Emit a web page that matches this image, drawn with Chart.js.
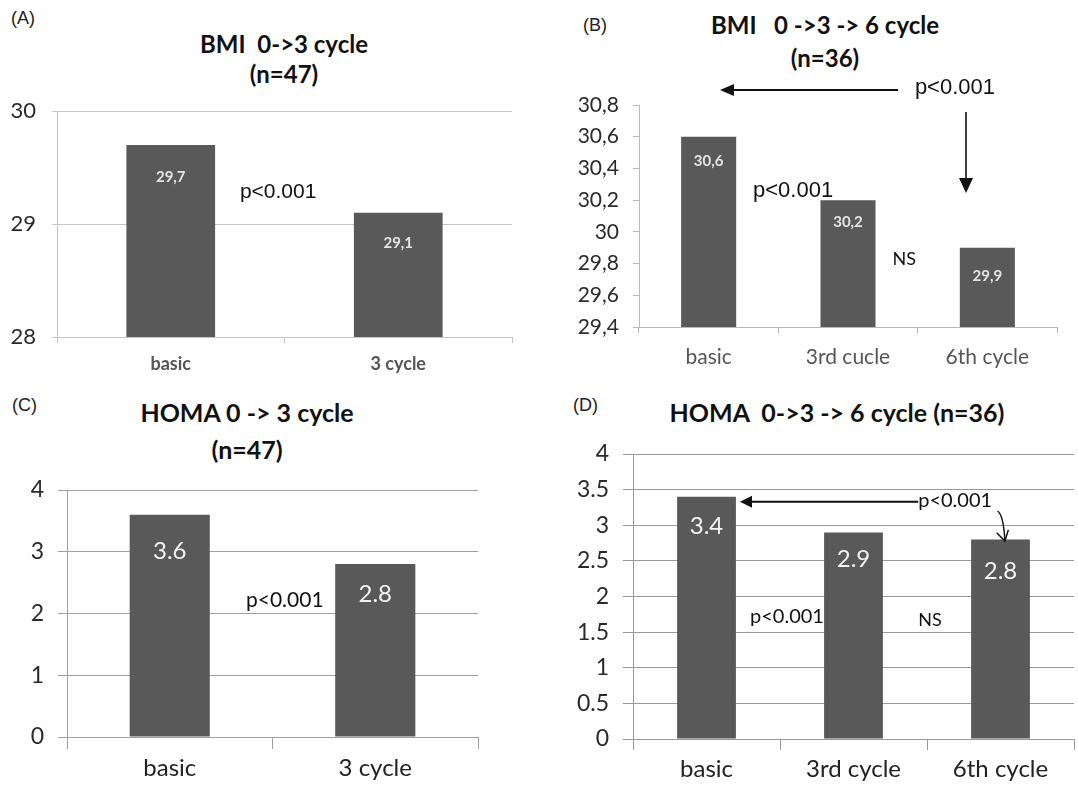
<!DOCTYPE html>
<html><head><meta charset="utf-8">
<script src="https://cdn.jsdelivr.net/npm/chart.js@4"></script>
<style>
body{margin:0;background:#fff;width:1078px;height:790px;position:relative;overflow:hidden;font-family:Lato,sans-serif}
canvas{position:absolute}
.t{position:absolute;white-space:pre;transform:translateX(-50%);font-weight:bold;color:#111;line-height:1}
.l{position:absolute;font-family:"Liberation Sans",Arial,sans-serif;font-size:18px;color:#222;line-height:1}
</style></head><body>
<div class="l" style="left:11px;top:9px">(A)</div>
<div class="l" style="left:583px;top:16px">(B)</div>
<div class="l" style="left:12px;top:396px">(C)</div>
<div class="l" style="left:573px;top:396px">(D)</div>
<div class="t" style="left:284px;top:32px;font-size:24px">BMI  0-&gt;3 cycle</div>
<div class="t" style="left:284px;top:62px;font-size:24px">(n=47)</div>
<div class="t" style="left:825px;top:13px;font-size:24px">BMI   0 -&gt;3 -&gt; 6 cycle</div>
<div class="t" style="left:825px;top:46px;font-size:24px">(n=36)</div>
<div class="t" style="left:247px;top:400px;font-size:25px">HOMA 0 -&gt; 3 cycle</div>
<div class="t" style="left:247px;top:437px;font-size:25px">(n=47)</div>
<div class="t" style="left:837px;top:400px;font-size:25px">HOMA  0-&gt;3 -&gt; 6 cycle (n=36)</div>
<canvas id="cA" width="540" height="390" style="left:0;top:0"></canvas>
<canvas id="cB" width="538" height="390" style="left:540px;top:0"></canvas>
<canvas id="cC" width="540" height="400" style="left:0;top:390px"></canvas>
<canvas id="cD" width="538" height="400" style="left:540px;top:390px"></canvas>
<script>
// ---- data ----
const catsA = ['basic', '3 cycle'];
const bmiA = [29.7, 29.1];
const yTicksA = [28, 29, 30];

const catsB = ['basic', '3rd cucle', '6th cycle'];
const bmiB = [30.6, 30.2, 29.9];
const yTicksB = [29.4, 29.6, 29.8, 30, 30.2, 30.4, 30.6, 30.8];

const catsC = ['basic', '3 cycle'];
const homaC = [3.6, 2.8];
const yTicksC = [0, 1, 2, 3, 4];

const catsD = ['basic', '3rd cycle', '6th cycle'];
const homaD = [3.4, 2.9, 2.8];
const yTicksD = [0, 0.5, 1, 1.5, 2, 2.5, 3, 3.5, 4];

const comma = v => String(Math.round(v * 10) / 10).replace('.', ',');
const dot = v => String(Math.round(v * 10) / 10);

const annot = {
  id: 'annot',
  afterDatasetsDraw(chart, args, opts) {
    const P = opts.panel, ctx = chart.ctx, xs = chart.scales.x, ys = chart.scales.y;
    const X = i => xs.getPixelForValue(i), Y = v => ys.getPixelForValue(v);
    ctx.save();
    ctx.font = P.barFont; ctx.fillStyle = P.barLabelColor;
    ctx.textAlign = 'center'; ctx.textBaseline = 'middle';
    chart.getDatasetMeta(0).data.forEach((bar, k) => {
      ctx.fillText(P.fmt(P.values[k]), bar.x, bar.y + P.labelOffset[k]);
    });
    ctx.textAlign = 'left';
    P.notes.forEach(n => {
      ctx.font = n.font; ctx.fillStyle = '#111';
      ctx.fillText(n.text, X(n.i), Y(n.v));
    });
    P.arrows.forEach(a => {
      const x1 = X(a.i1), y1 = Y(a.v1), x2 = X(a.i2), y2 = Y(a.v2);
      const ang = Math.atan2(y2 - y1, x2 - x1);
      ctx.strokeStyle = '#111'; ctx.fillStyle = '#111'; ctx.lineWidth = a.lw;
      const hx = x2 - a.hl * Math.cos(ang), hy = y2 - a.hl * Math.sin(ang);
      ctx.beginPath();
      ctx.moveTo(x1, y1);
      if (a.curve) ctx.quadraticCurveTo(x1 + 6, y1 + 4, a.open ? x2 : hx, a.open ? y2 : hy);
      else ctx.lineTo(a.open ? x2 : hx, a.open ? y2 : hy);
      ctx.stroke();
      const px = -Math.sin(ang) * a.hw, py = Math.cos(ang) * a.hw;
      ctx.beginPath();
      if (a.open) {
        ctx.moveTo(hx + px, hy + py); ctx.lineTo(x2, y2); ctx.lineTo(hx - px, hy - py); ctx.stroke();
      } else {
        ctx.moveTo(x2, y2); ctx.lineTo(hx + px, hy + py); ctx.lineTo(hx - px, hy - py); ctx.closePath(); ctx.fill();
      }
    });
    ctx.restore();
  }
};

function makePanel(id, P) {
  new Chart(document.getElementById(id), {
    type: 'bar',
    data: { labels: P.cats, datasets: [{ data: P.values, backgroundColor: '#595959', barPercentage: P.barPct, categoryPercentage: 1 }] },
    options: {
      responsive: false, animation: false, devicePixelRatio: 1,
      layout: { padding: { top: P.area.top, right: P.w - P.area.right, left: 0, bottom: 0 } },
      plugins: { legend: { display: false }, tooltip: { enabled: false }, annot: { panel: P } },
      scales: {
        x: {
          grid: { drawOnChartArea: false, tickLength: P.xTick, color: P.axisColor },
          border: { color: P.axisColor },
          ticks: { font: P.xFont, color: P.xColor, padding: P.xPad, maxRotation: 0, autoSkip: false },
          afterFit(s) { s.height = P.h - P.area.bottom; }
        },
        y: {
          min: P.yTicks[0], max: P.yTicks[P.yTicks.length - 1],
          afterBuildTicks(s) { s.ticks = P.yTicks.map(v => ({ value: v })); },
          grid: { drawOnChartArea: P.grid, tickLength: P.yTick, color: P.gridColor },
          border: { color: P.axisColor },
          ticks: { font: P.yFont, color: '#2a2a2a', padding: P.yPad, callback: v => P.fmt(v) },
          afterFit(s) { s.width = P.area.left; }
        }
      }
    },
    plugins: [annot]
  });
}

makePanel('cA', {
  cats: catsA, values: bmiA, yTicks: yTicksA, fmt: comma, w: 540, h: 390,
  area: { left: 57, right: 512, top: 111, bottom: 337 }, barPct: 0.39,
  grid: true, gridColor: '#c4c4c4', axisColor: '#c4c4c4', xTick: 6, yTick: 5,
  xFont: { family: 'Lato', size: 18, weight: 'bold' }, xColor: '#555', xPad: 10,
  yFont: { family: 'Lato', size: 22 }, yPad: 16,
  barFont: 'bold 15px Lato', barLabelColor: '#e4e4e4', labelOffset: [32, 30],
  notes: [{ text: 'p<0.001', i: 0.304, v: 29.283, font: '21px "Liberation Sans"' }],
  arrows: []
});

makePanel('cB', {
  cats: catsB, values: bmiB, yTicks: yTicksB, fmt: comma, w: 538, h: 390,
  area: { left: 99, right: 517, top: 105, bottom: 327 }, barPct: 0.395,
  grid: false, gridColor: '#b8b8b8', axisColor: '#b8b8b8', xTick: 6, yTick: 6,
  xFont: { family: 'Lato', size: 21 }, xColor: '#555', xPad: 12,
  yFont: { family: 'Lato', size: 21 }, yPad: 14,
  barFont: 'bold 15px Lato', barLabelColor: '#e4e4e4', labelOffset: [24, 22, 28],
  notes: [
    { text: 'p<0.001', i: 1.48, v: 30.907, font: '22px "Liberation Sans"' },
    { text: 'p<0.001', i: 0.318, v: 30.258, font: '22px "Liberation Sans"' },
    { text: 'NS', i: 1.32, v: 29.829, font: '18px Lato' }
  ],
  arrows: [
    { i1: 1.36, v1: 30.895, i2: 0.081, v2: 30.895, lw: 2, hl: 14, hw: 6 },
    { i1: 1.847, v1: 30.756, i2: 1.847, v2: 30.245, lw: 1.6, hl: 15, hw: 7 }
  ]
});

makePanel('cC', {
  cats: catsC, values: homaC, yTicks: yTicksC, fmt: dot, w: 540, h: 400,
  area: { left: 67, right: 478, top: 100, bottom: 347 }, barPct: 0.39,
  grid: true, gridColor: '#a0a0a0', axisColor: '#a0a0a0', xTick: 12, yTick: 9,
  xFont: { family: 'Lato', size: 24 }, xColor: '#222', xPad: 5,
  yFont: { family: 'Lato', size: 23 }, yPad: 14,
  barFont: '24px Lato', barLabelColor: '#f2f2f2', labelOffset: [37, 30],
  notes: [{ text: 'p<0.001', i: 0.371, v: 2.22, font: '21px Lato' }],
  arrows: []
});

makePanel('cD', {
  cats: catsD, values: homaD, yTicks: yTicksD, fmt: dot, w: 538, h: 400,
  area: { left: 93, right: 534, top: 64, bottom: 349 }, barPct: 0.40,
  grid: true, gridColor: '#999', axisColor: '#999', xTick: 11, yTick: 10,
  xFont: { family: 'Lato', size: 24 }, xColor: '#222', xPad: 5,
  yFont: { family: 'Lato', size: 23 }, yPad: 14,
  barFont: '24px Lato', barLabelColor: '#f2f2f2', labelOffset: [30, 27, 32],
  notes: [
    { text: 'p<0.001', i: 1.44, v: 3.34, font: '20px Lato' },
    { text: 'p<0.001', i: 0.296, v: 1.712, font: '20px Lato' },
    { text: 'NS', i: 1.44, v: 1.67, font: '18px Lato' }
  ],
  arrows: [
    { i1: 1.44, v1: 3.33, i2: 0.228, v2: 3.33, lw: 2, hl: 12, hw: 6 },
    { i1: 1.98, v1: 3.20, i2: 2.03, v2: 2.779, lw: 1.5, hl: 10, hw: 6, open: true, curve: true }
  ]
});
</script>
</body></html>
